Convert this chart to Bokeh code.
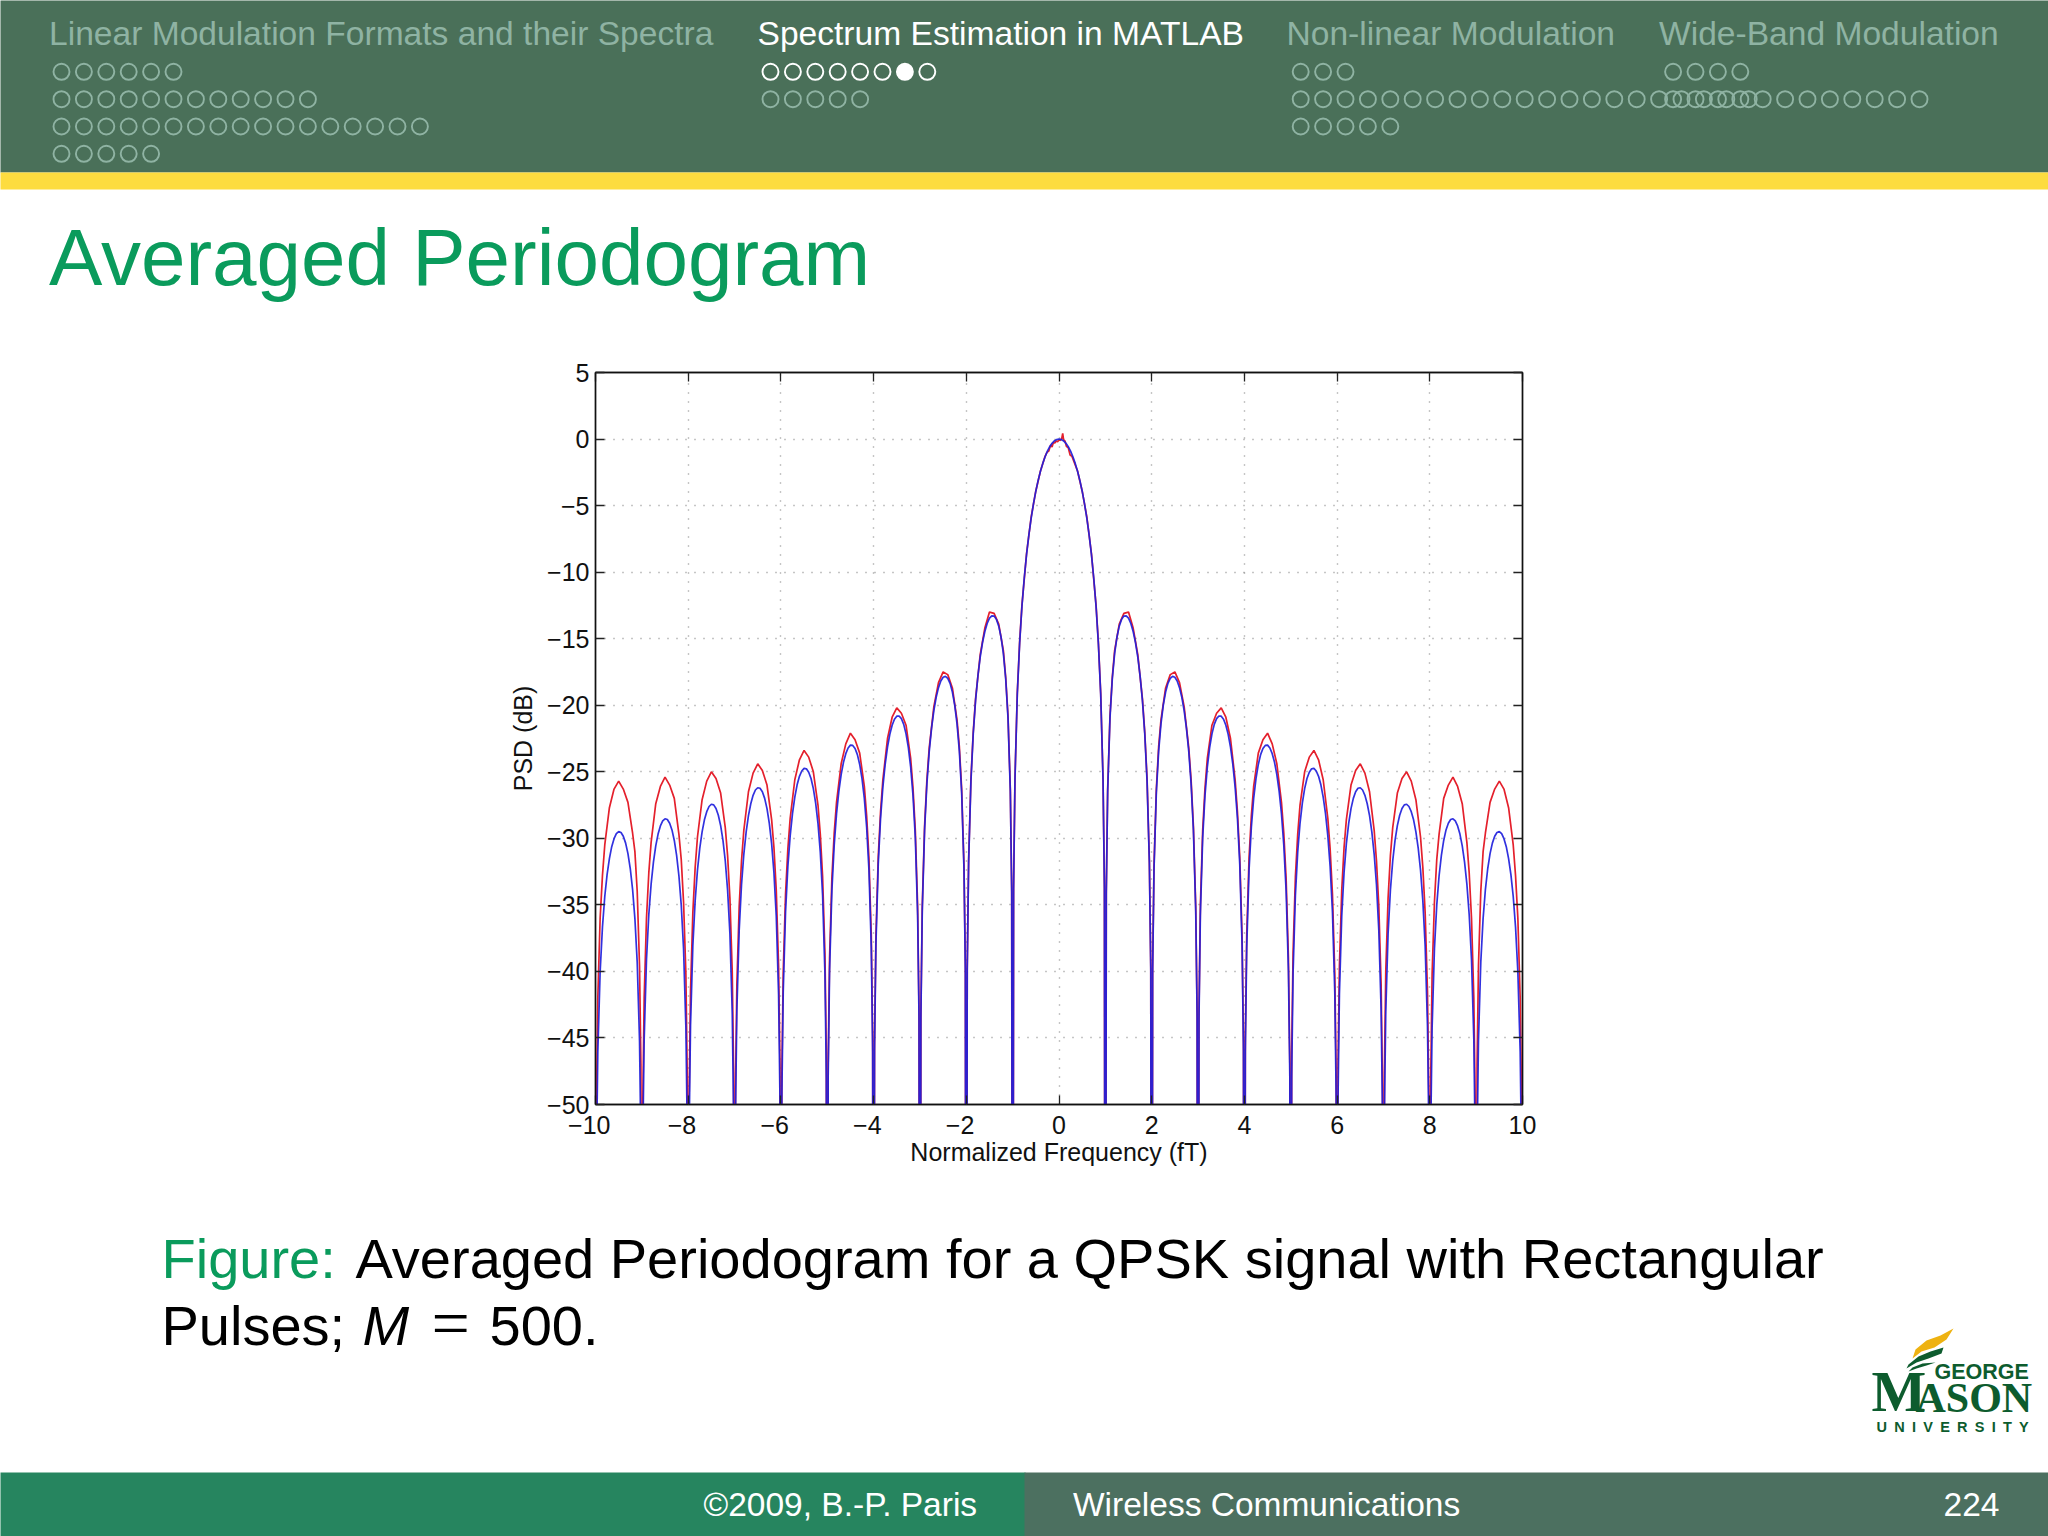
from bokeh.core.properties import value
from bokeh.embed import file_html
from bokeh.layouts import column
from bokeh.models import FixedTicker, LinearAxis, Range1d
from bokeh.plotting import figure
from bokeh.resources import INLINE

# ---------------------------------------------------------------- chart data
# Offsets inside one side lobe (fraction of the way from one null to the next)
blue_offsets = [0.02, 0.05, 0.1, 0.15, 0.2, 0.25, 0.3, 0.35, 0.4, 0.45, 0.5, 0.55, 0.6, 0.65, 0.7, 0.75, 0.8, 0.85, 0.9, 0.95, 0.98]
red_offsets = [0.02, 0.05, 0.1, 0.15, 0.2, 0.3, 0.4, 0.5, 0.6, 0.7, 0.8, 0.85, 0.9, 0.95, 0.98]
null_level = -100.0

blue_main_f = [0.0, 0.05, 0.1, 0.15, 0.2, 0.25, 0.3, 0.35, 0.4, 0.45, 0.5, 0.55, 0.6, 0.65, 0.7, 0.75, 0.8, 0.85, 0.9, 0.95, 0.98]
blue_main = [0.0, -0.04, -0.14, -0.32, -0.58, -0.91, -1.33, -1.83, -2.42, -3.11, -3.92, -4.85, -5.94, -7.2, -8.68, -10.46, -12.6, -15.4, -19.2, -25.6, -33.8]

blue_1 = [-34.15, -26.5, -20.97, -18.01, -16.13, -14.89, -14.06, -13.55, -13.3, -13.28, -13.46, -13.86, -14.46, -15.29, -16.39, -17.81, -19.66, -22.14, -25.72, -31.88, -39.91]
blue_2 = [-40.09, -32.32, -26.58, -23.45, -21.4, -19.99, -19.01, -18.36, -17.98, -17.83, -17.9, -18.18, -18.68, -19.4, -20.41, -21.74, -23.49, -25.9, -29.39, -35.48, -43.46]
blue_3 = [-43.58, -35.77, -29.97, -26.77, -24.65, -23.19, -22.15, -21.44, -21.01, -20.81, -20.82, -21.05, -21.51, -22.19, -23.14, -24.43, -26.15, -28.51, -31.96, -38.01, -45.98]
blue_4 = [-46.06, -38.23, -32.4, -29.16, -27.01, -25.52, -24.45, -23.71, -23.25, -23.02, -23.0, -23.21, -23.64, -24.29, -25.22, -26.48, -28.17, -30.51, -33.94, -39.97, -47.92]
blue_5 = [-47.99, -40.15, -34.29, -31.04, -28.87, -27.35, -26.27, -25.51, -25.03, -24.78, -24.75, -24.94, -25.34, -25.98, -26.9, -28.14, -29.82, -32.14, -35.56, -41.57, -49.51]
blue_6 = [-49.57, -41.72, -35.85, -32.58, -30.4, -28.87, -27.77, -27.0, -26.5, -26.24, -26.2, -26.37, -26.77, -27.4, -28.3, -29.54, -31.2, -33.51, -36.92, -42.92, -50.86]
blue_7 = [-50.91, -43.04, -37.17, -33.89, -31.7, -30.16, -29.05, -28.27, -27.76, -27.49, -27.44, -27.61, -28.0, -28.61, -29.51, -30.74, -32.39, -34.7, -38.09, -44.09, -52.02]
blue_8 = [-52.06, -44.2, -38.31, -35.02, -32.83, -31.28, -30.16, -29.37, -28.87, -28.59, -28.53, -28.69, -29.07, -29.68, -30.57, -31.79, -33.44, -35.74, -39.13, -45.12, -53.05]
blue_9 = [-53.08, -45.21, -39.32, -36.03, -33.83, -32.27, -31.15, -30.36, -29.84, -29.56, -29.49, -29.65, -30.03, -30.63, -31.52, -32.73, -34.37, -36.67, -40.05, -46.04, -53.96]

red_top_f = [-0.3, -0.26, -0.22, -0.18, -0.15, -0.12, -0.09, -0.06, -0.03, 0.0, 0.03, 0.06, 0.08, 0.1, 0.13, 0.16, 0.2, 0.24, 0.28]
red_top = [-1.3, -1.0, -0.9, -0.45, -0.6, -0.25, -0.3, -0.15, -0.2, -0.05, -0.1, 0.05, 0.42, -0.1, -0.15, -0.55, -0.65, -1.2, -1.3]
red_main_f = [0.4, 0.5, 0.6, 0.7, 0.8, 0.85, 0.9, 0.95, 0.98]
red_main = [-2.4, -3.9, -5.85, -8.6, -12.5, -15.3, -19.1, -25.5, -33.7]

red_1 = [-34.0, -26.3, -20.8, -17.9, -15.9, -13.9, -13.1, -13.0, -14.2, -16.2, -19.5, -22.0, -25.5, -31.7, -39.7]
red_2 = [-39.7, -32.0, -26.3, -23.1, -21.1, -18.7, -17.7, -17.5, -18.3, -20.1, -23.2, -25.6, -29.1, -35.1, -43.1]
red_3 = [-43.0, -35.1, -29.4, -26.2, -24.0, -21.5, -20.6, -20.2, -20.9, -22.5, -25.6, -28.0, -31.4, -37.4, -45.3]
red_4 = [-44.9, -37.3, -31.5, -28.3, -26.1, -23.6, -22.6, -22.1, -22.9, -24.4, -27.3, -29.6, -33.0, -39.0, -46.9]
red_5 = [-46.1, -38.6, -32.9, -29.7, -27.5, -25.0, -23.9, -23.4, -24.1, -25.6, -28.5, -30.8, -34.2, -40.1, -47.9]
red_6 = [-47.0, -39.6, -33.9, -30.7, -28.6, -26.0, -24.9, -24.4, -25.1, -26.5, -29.4, -31.7, -35.1, -41.0, -48.8]
red_7 = [-47.6, -40.0, -34.5, -31.3, -29.2, -26.6, -25.5, -25.0, -25.7, -27.1, -29.9, -32.2, -35.6, -41.5, -49.5]
red_8 = [-48.0, -40.2, -34.8, -31.6, -29.7, -27.0, -26.0, -25.4, -26.1, -27.4, -30.3, -32.6, -36.0, -42.0, -50.0]
red_9 = [-47.0, -39.6, -34.0, -31.0, -29.6, -27.3, -26.3, -25.7, -26.3, -27.7, -30.5, -32.8, -36.0, -42.0, -50.0]

x_ticks = [-10, -8, -6, -4, -2, 0, 2, 4, 6, 8, 10]
y_ticks = [-50, -45, -40, -35, -30, -25, -20, -15, -10, -5, 0, 5]
x_axis_label = "Normalized Frequency (fT)"
y_axis_label = "PSD (dB)"

# ---------------------------------------------------------------- slide text
title_text = "Averaged Periodogram"
nav_titles = ["Linear Modulation Formats and their Spectra", "Spectrum Estimation in MATLAB",
              "Non-linear Modulation", "Wide-Band Modulation"]
nav_rows = [[6, 12, 17, 5], [8, 5], [3, 21, 5], [4, 12]]
nav_title_x = [48.5, 757, 1286, 1658.5]
nav_dot_x = [61, 770, 1300.2, 1672.6]
nav_row_y = [71.3, 98.7, 126, 153.3]

GREEN, DIM, TITLE = "#4a7059", "#8fb3a3", "#0a9b5c"
FW, FH = 2048, 1536
TOP_H, BOTTOM_Y = 320, 1200
L, R, T, B = 595, 1522, 372, 1104
BASELINE_SHIFT = 0.38  # the text glyph sits this many ems under the asked-for baseline


def sweep(lobes, offsets):
    """Positive-frequency polyline from lobe lists: each lobe starts at a null."""
    f, v = [], []
    for n, lobe in enumerate(lobes, start=1):
        f.append(float(n))
        v.append(null_level)
        f.extend(n + d for d in offsets)
        v.extend(lobe)
    f.append(10.0)
    v.append(null_level)
    return f, v


blue_f, blue_v = sweep([blue_1, blue_2, blue_3, blue_4, blue_5, blue_6, blue_7, blue_8, blue_9], blue_offsets)
red_f, red_v = sweep([red_1, red_2, red_3, red_4, red_5, red_6, red_7, red_8, red_9], red_offsets)

blue_pos_f = blue_main_f + blue_f
blue_pos_v = blue_main + blue_v
blue_x = [-a for a in reversed(blue_pos_f[1:])] + blue_pos_f
blue_y = list(reversed(blue_pos_v[1:])) + blue_pos_v

red_out_f = red_main_f + red_f
red_out_v = red_main + red_v
red_x = [-a for a in reversed(red_out_f)] + red_top_f + red_out_f
red_y = list(reversed(red_out_v)) + red_top + red_out_v

# ---------------------------------------------------------------- the chart
p = figure(width=FW, height=BOTTOM_Y - TOP_H, output_backend="svg", toolbar_location=None,
           x_range=Range1d(-10, 10), y_range=Range1d(-50, 5), frame_align=False,
           min_border_left=L, min_border_right=FW - R,
           min_border_top=T - TOP_H, min_border_bottom=BOTTOM_Y - B,
           background_fill_color="white", border_fill_color="white",
           outline_line_color="#111111", outline_line_width=1.4,
           x_axis_label=x_axis_label, y_axis_label=y_axis_label)

p.line(red_x, red_y, line_color="#e4202c", line_width=1.7)
p.line(blue_x, blue_y, line_color="#2020dc", line_width=1.7, line_alpha=0.92)

xt, yt = FixedTicker(ticks=x_ticks), FixedTicker(ticks=y_ticks)
for grid, tick in ((p.xgrid, xt), (p.ygrid, yt)):
    grid.ticker = tick
    grid.grid_line_color = "#8c8c8c"
    grid.grid_line_width = 1.4
    grid.grid_line_dash = [1, 8]

MINUS = "\u2212"
xa, ya = p.xaxis[0], p.yaxis[0]
xa.ticker = xt
ya.ticker = yt
xa.major_label_overrides = {t: (f"{MINUS}{-t}\u2002" if t < 0 else str(t)) for t in x_ticks}
ya.major_label_overrides = {t: (f"{MINUS}{-t}" if t < 0 else str(t)) for t in y_ticks}
for ax in (xa, ya):
    ax.major_tick_in = 9
    ax.major_tick_out = 0
    ax.minor_tick_line_color = None
    ax.major_tick_line_color = "#222222"
    ax.major_tick_line_width = 1.3
    ax.axis_line_color = "#111111"
    ax.axis_line_width = 1.4
    ax.major_label_text_font = "Liberation Sans"
    ax.major_label_text_font_size = "25px"
    ax.major_label_text_color = "#111111"
    ax.axis_label_text_font = "Liberation Sans"
    ax.axis_label_text_font_size = "25px"
    ax.axis_label_text_font_style = "normal"
    ax.axis_label_text_color = "#111111"
xa.major_label_standoff = 6
ya.major_label_standoff = 6
xa.axis_label_standoff = -4
ya.axis_label_standoff = 7

for ticks, place in ((x_ticks, "above"), (y_ticks, "right")):
    extra = LinearAxis(ticker=FixedTicker(ticks=ticks),
                       major_label_overrides={t: "" for t in ticks},
                       major_tick_in=9, major_tick_out=0, minor_tick_line_color=None,
                       major_tick_line_color="#222222", major_tick_line_width=1.3,
                       axis_line_color="#111111", axis_line_width=1.4)
    p.add_layout(extra, place)


# ---------------------------------------------------------------- slide pieces
def slide_part(y0, y1):
    """A borderless strip of the slide whose data units are page pixels."""
    s = figure(width=FW, height=y1 - y0, output_backend="svg", toolbar_location=None,
               x_range=Range1d(0, FW), y_range=Range1d(y1, y0), frame_align=False,
               x_axis_type=None, y_axis_type=None, min_border=0,
               background_fill_color="white", border_fill_color="white", outline_line_color=None)
    s.grid.visible = False
    return s


def text(s, x, y, label, size, color, font="Liberation Sans", style="normal"):
    s.text(x=[x], y=[y - BASELINE_SHIFT * size], text=[label], text_font=value(font),
           text_font_size=f"{size}px", text_font_style=style, text_color=color,
           text_baseline="alphabetic", text_align="left")


top = slide_part(0, TOP_H)
top.quad(left=[-6, -6], right=[FW + 6, FW + 6], top=[-6, 172], bottom=[172, 189],
         fill_color=[GREEN, "#fddc3f"], line_color=None)

for i, name in enumerate(nav_titles):
    active = i == 1
    text(top, nav_title_x[i], 45.5, name, 33.6, "white" if active else DIM)
    for r, count in enumerate(nav_rows[i]):
        lit = active and r == 0
        xs = [nav_dot_x[i] + c * 22.4 for c in range(count)]
        ys = [nav_row_y[r]] * count
        fills = ["white" if (lit and c == 6) else GREEN for c in range(count)]
        top.scatter(xs, ys, marker="circle", size=16, fill_color=fills, fill_alpha=0.0 if not lit else 1.0,
                    line_color="white" if lit else DIM, line_width=1.9)

text(top, 48.5, 287.5, title_text, 80, TITLE)

bot = slide_part(BOTTOM_Y, FH)
bot.quad(left=[-6, 1024], right=[1025, FW + 6], top=[1472, 1472], bottom=[FH + 6, FH + 6],
         fill_color=["#26855f", "#4c7060"], line_color=None)

text(bot, 161, 1279.5, "Figure:", 56, TITLE)
text(bot, 355, 1279.5, "Averaged Periodogram for a QPSK signal with Rectangular", 56, "black")
text(bot, 161, 1346.5, "Pulses;", 56, "black")
text(bot, 362, 1346.5, "M", 56, "black", style="italic")
text(bot, 431, 1348, "=", 68, "black", font="Liberation Serif")
text(bot, 489, 1346.5, "500.", 56, "black")

text(bot, 703, 1517, "\u00a92009, B.-P. Paris", 33.5, "white")
text(bot, 1072.5, 1517, "Wireless Communications", 33.5, "white")
text(bot, 1943, 1517, "224", 33.5, "white")

# George Mason logo
LOGO = "#0d5c2e"
bot.patch([1953, 1940, 1926, 1915, 1912, 1921, 1934, 1946], [1328, 1335, 1340, 1349, 1358, 1351, 1347, 1339],
          fill_color="#eeb211", line_color=None)
bot.patch([1943, 1930, 1918, 1908, 1906, 1916, 1928, 1941], [1347, 1351, 1356, 1364, 1368, 1362, 1358, 1353],
          fill_color=LOGO, line_color=None)
bot.patch([1935, 1922, 1912, 1908, 1916, 1926], [1362, 1363, 1367, 1371, 1368, 1365],
          fill_color=LOGO, line_color=None)
text(bot, 1871, 1413, "M", 58, LOGO, font="Liberation Serif", style="bold")
text(bot, 1915, 1413, "ASON", 42, LOGO, font="Liberation Serif", style="bold")
text(bot, 1934, 1380, "GEORGE", 21.5, LOGO, style="bold")
text(bot, 1876, 1432, "\u2002".join("UNIVERSITY"), 14.5, LOGO, style="bold")

page = column(top, p, bot, spacing=0)
open("out.html", "w").write(file_html(page, INLINE))
